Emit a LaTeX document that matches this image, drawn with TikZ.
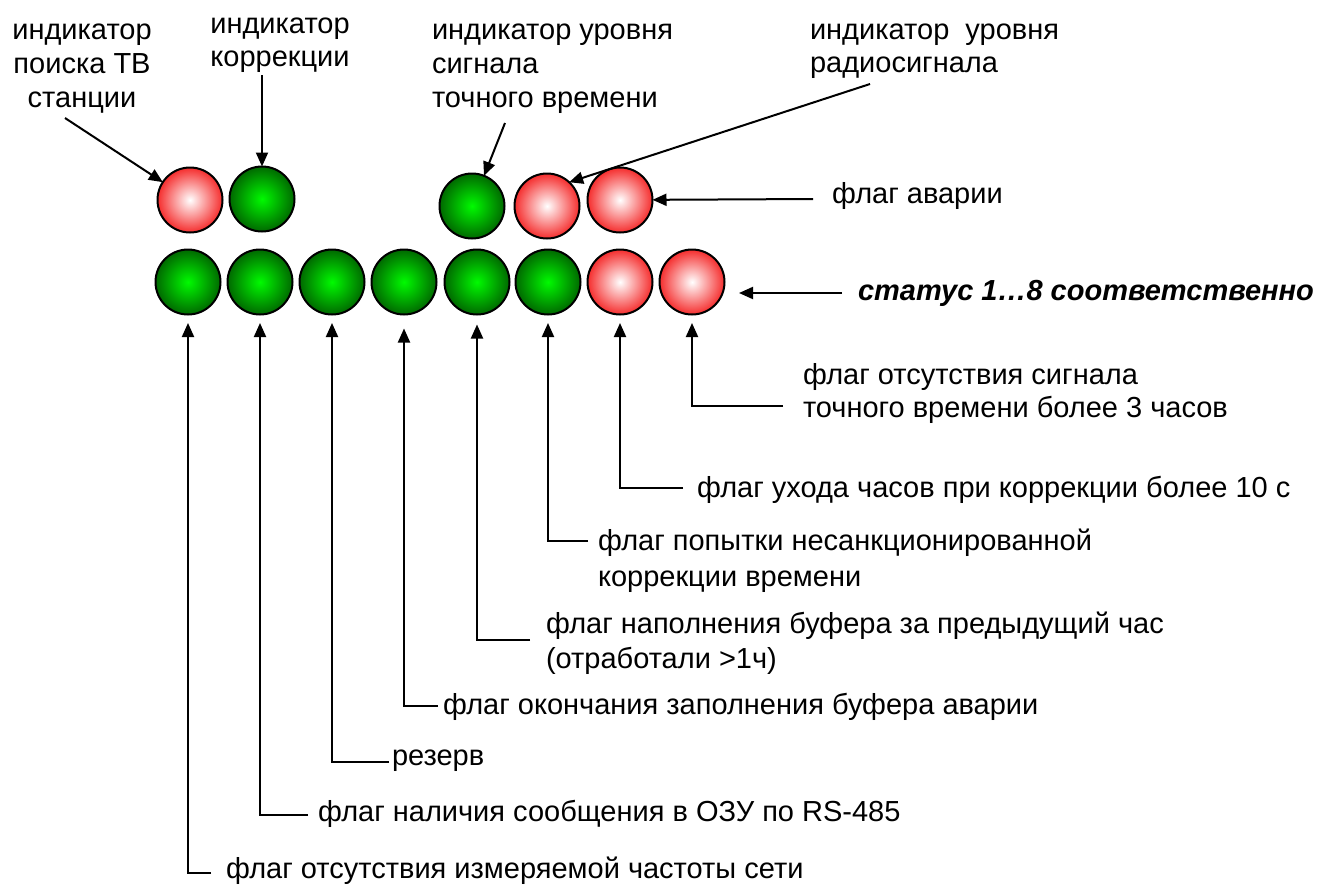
\documentclass[tikz,border=0pt]{standalone}
\usepackage{fontspec}
\setmainfont{Liberation Sans}
\usetikzlibrary{arrows.meta,calc}
\definecolor{gdark}{RGB}{0,105,0}
\definecolor{glight}{RGB}{0,250,0}
\definecolor{rdark}{RGB}{245,45,45}
\begin{document}
\begin{tikzpicture}[x=1pt,y=-1pt,
  lamp/.style={circle,draw=black,line width=2pt,minimum size=65pt,inner sep=0pt,outer sep=0pt},
  gn/.style={lamp,inner color=glight,outer color=gdark},
  rd/.style={lamp,inner color=white,outer color=rdark},
  lbl/.style={inner sep=0pt,outer sep=0pt,font=\fontsize{29}{33}\selectfont},
  arr/.style={line width=2pt,-{Triangle[length=14pt,width=12pt]}},
  ln/.style={line width=2pt}]
\useasboundingbox (0,0) rectangle (1322,887);

% top row lamps
\node[rd] (t1) at (190,200) {};
\node[gn] (t2) at (262,199) {};
\node[gn] (t3) at (472,206) {};
\node[rd] (t4) at (547,206) {};
\node[rd] (t5) at (620,200) {};

% bottom row lamps
\node[gn] (b1) at (188,282) {};
\node[gn] (b2) at (260,282) {};
\node[gn] (b3) at (332,282) {};
\node[gn] (b4) at (404,282) {};
\node[gn] (b5) at (477,282) {};
\node[gn] (b6) at (548,282) {};
\node[rd] (b7) at (620,282) {};
\node[rd] (b8) at (692,282) {};

% top labels
\node[lbl,anchor=base] (l1a) at (82,39) {индикатор};
\node[lbl,anchor=base] (l1b) at (82,73) {поиска ТВ};
\node[lbl,anchor=base] (l1c) at (82,107) {станции};
\node[lbl,anchor=base] (l2a) at (280,33) {индикатор};
\node[lbl,anchor=base] (l2b) at (280,66) {коррекции};
\node[lbl,anchor=base west] (l3a) at (432,39) {индикатор уровня};
\node[lbl,anchor=base west] (l3b) at (432,73) {сигнала};
\node[lbl,anchor=base west] (l3c) at (432,107) {точного времени};
\node[lbl,anchor=base west] (l4a) at (810,39) {индикатор\ \ уровня};
\node[lbl,anchor=base west] (l4b) at (810,72) {радиосигнала};
\node[lbl,anchor=base west] (l5) at (832,203) {флаг аварии};
\node[lbl,anchor=base west,font=\fontsize{29}{33}\selectfont\bfseries\itshape] (l6) at (858,300) {статус 1…8 соответственно};

% bottom labels
\node[lbl,anchor=base west] (f8a) at (803,384) {флаг отсутствия сигнала};
\node[lbl,anchor=base west] (f8b) at (803,417) {точного времени более 3 часов};
\node[lbl,anchor=base west] (f7) at (697,497) {флаг ухода часов при коррекции более 10 с};
\node[lbl,anchor=base west] (f6a) at (598,550) {флаг попытки несанкционированной};
\node[lbl,anchor=base west] (f6b) at (598,586) {коррекции времени};
\node[lbl,anchor=base west] (f5a) at (546,633) {флаг наполнения буфера за предыдущий час};
\node[lbl,anchor=base west] (f5b) at (546,668) {(отработали >1ч)};
\node[lbl,anchor=base west] (f4) at (443,714) {флаг окончания заполнения буфера аварии};
\node[lbl,anchor=base west] (f3) at (392,765) {резерв};
\node[lbl,anchor=base west] (f2) at (318,821) {флаг наличия сообщения в ОЗУ по RS-485};
\node[lbl,anchor=base west] (f1) at (226,878) {флаг отсутствия измеряемой частоты сети};

% top arrows
\coordinate (s1) at (65,118);
\coordinate (s2) at (262,75);
\coordinate (s3) at (505,123);
\coordinate (s4) at (870,84);
\coordinate (s5) at (813,199);
\coordinate (s6) at (842,293);
\coordinate (e6) at (739,293);
\draw[arr] (s1) -- (t1);
\draw[arr] (s2) -- (t2);
\draw[arr] (s3) -- (t3);
\draw[arr] (s4) -- (t4.47);
\draw[arr] (s5) -- (t5);
\draw[arr] (s6) -- (e6);

% bottom arrows
\coordinate (c1) at (211,873);
\coordinate (c2) at (308,815);
\coordinate (c3) at (389,762);
\coordinate (c4) at (438,706);
\coordinate (c5) at (530,640);
\coordinate (c6) at (588,541);
\coordinate (c7) at (683,488);
\coordinate (c8) at (783,406);
\draw[arr,shorten >=8.5pt] (c1) -| (b1.south);
\draw[arr,shorten >=8.5pt] (c2) -| (b2.south);
\draw[arr,shorten >=8.5pt] (c3) -| (b3.south);
\draw[arr,shorten >=14pt] (c4) -| (b4.south);
\draw[arr,shorten >=10pt] (c5) -| (b5.south);
\draw[arr,shorten >=8.5pt] (c6) -| (b6.south);
\draw[arr,shorten >=8.5pt] (c7) -| (b7.south);
\draw[arr,shorten >=8.5pt] (c8) -| (b8.south);
\end{tikzpicture}
\end{document}
